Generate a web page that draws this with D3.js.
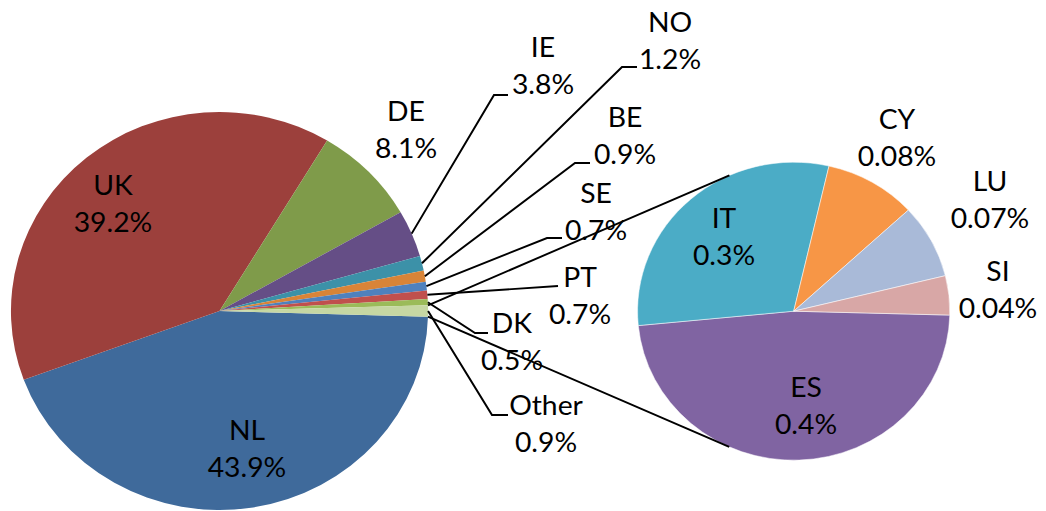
<!DOCTYPE html>
<html>
<head>
<meta charset="utf-8">
<script src="https://cdn.jsdelivr.net/npm/d3@7"></script>
<style>
  body { margin: 0; background: #fff; }
  svg { display: block; }
  text { font-family: Lato, "Open Sans", sans-serif; font-size: 27px; fill: #000; }
</style>
</head>
<body>
<svg id="chart" width="1046" height="511"></svg>
<script>
// main pie data (share of total, %)
var mainLabels = ["NL", "UK", "DE", "IE", "NO", "BE", "SE", "PT", "DK", "Other"];
var mainValues = [43.9, 39.2, 8.1, 3.8, 1.2, 0.9, 0.7, 0.7, 0.5, 0.9];
var mainText   = ["43.9%", "39.2%", "8.1%", "3.8%", "1.2%", "0.9%", "0.7%", "0.7%", "0.5%", "0.9%"];

// breakdown of "Other"
var otherLabels = ["ES", "IT", "CY", "LU", "SI"];
var otherValues = [0.43, 0.27, 0.085, 0.072, 0.038];
var otherText   = ["0.4%", "0.3%", "0.08%", "0.07%", "0.04%"];

chart = {};

chart.SX = 1.048;   // picture is a bit wider than tall
chart.mainColors = ["#3f6a9b", "#9c403c", "#7f9b4a", "#654e86", "#3c91a8", "#d88438",
                    "#4f81bd", "#c0504d", "#9bbb59", "#c6d7a3"];
chart.otherColors = ["#8064a2", "#4bacc6", "#f79646", "#a9bad8", "#d8a7a6"];

chart.main = { cx: 219.5, cy: 311, r: 199 };
chart.second = { cx: 793.7, cy: 311.2, r: 149, start: 91.5 };

// label placement in picture pixels: x centre, first baseline, leader elbow and end
chart.mainLabelPos = {
    NL:    { x: 247, y: 440 },
    UK:    { x: 113, y: 195 },
    DE:    { x: 406, y: 121 },
    IE:    { x: 543, y: 57,  elbow: [494, 95],  end: [508, 95] },
    NO:    { x: 670, y: 32,  elbow: [622, 67],  end: [637, 67] },
    BE:    { x: 625, y: 127, elbow: [575, 163], end: [590, 163] },
    SE:    { x: 596, y: 203, elbow: [547, 238], end: [562, 238] },
    PT:    { x: 580, y: 287, elbow: [558, 286], end: [558, 286] },
    DK:    { x: 512, y: 333, elbow: [475, 333], end: [488, 333] },
    Other: { x: 546, y: 415, elbow: [492, 415], end: [508, 415] }
};
chart.otherLabelPos = {
    ES: { x: 806, y: 397 },
    IT: { x: 724, y: 228 },
    CY: { x: 897, y: 129 },
    LU: { x: 990, y: 191 },
    SI: { x: 998, y: 281 }
};
chart.lineGap = 37;

chart.svg = d3.select("#chart");
chart.g = chart.svg.append("g")
    .attr("transform", "scale(" + chart.SX + ",1)");

// helper: picture x -> unscaled x
function ux(x) { return x / chart.SX; }

function edgePoint(c, a) {
    return [ux(c.cx) + c.r * Math.sin(a), c.cy - c.r * Math.cos(a)];
}

// main pie, with "Other" centred on 3 o'clock
var total = d3.sum(mainValues);
var otherAngle = 2 * Math.PI * mainValues[mainValues.length - 1] / total;
var a0 = Math.PI / 2 + otherAngle / 2;

var mainArcs = d3.pie().sort(null).value(function(d) { return d; })
    .startAngle(a0).endAngle(a0 + 2 * Math.PI)(mainValues);

var mainArc = d3.arc().innerRadius(0).outerRadius(chart.main.r);

chart.g.append("g")
    .attr("transform", "translate(" + ux(chart.main.cx) + "," + chart.main.cy + ")")
    .selectAll("path")
    .data(mainArcs)
    .enter().append("path")
    .attr("d", mainArc)
    .attr("fill", function(d, i) { return chart.mainColors[i]; });

// second pie
var s0 = chart.second.start * Math.PI / 180;
var otherArcs = d3.pie().sort(null).value(function(d) { return d; })
    .startAngle(s0).endAngle(s0 + 2 * Math.PI)(otherValues);

var otherArc = d3.arc().innerRadius(0).outerRadius(chart.second.r);

chart.g.append("g")
    .attr("transform", "translate(" + ux(chart.second.cx) + "," + chart.second.cy + ")")
    .selectAll("path")
    .data(otherArcs)
    .enter().append("path")
    .attr("d", otherArc)
    .attr("fill", function(d, i) { return chart.otherColors[i]; })
    .attr("stroke", "#fff")
    .attr("stroke-width", 0.5);

// connector lines: from edges of "Other" slice, tangent to the second pie
var oSlice = mainArcs[mainArcs.length - 1];
var C2 = [ux(chart.second.cx), chart.second.cy];
[oSlice.startAngle, oSlice.endAngle].forEach(function(a, k) {
    var p = edgePoint(chart.main, a);
    var dx = p[0] - C2[0], dy = p[1] - C2[1];
    var d = Math.sqrt(dx * dx + dy * dy);
    var phi = Math.atan2(dy, dx);
    var alpha = Math.acos(chart.second.r / d);
    var t1 = [C2[0] + chart.second.r * Math.cos(phi + alpha), C2[1] + chart.second.r * Math.sin(phi + alpha)];
    var t2 = [C2[0] + chart.second.r * Math.cos(phi - alpha), C2[1] + chart.second.r * Math.sin(phi - alpha)];
    var t = (k === 0) ? (t1[1] < t2[1] ? t1 : t2) : (t1[1] < t2[1] ? t2 : t1);
    chart.g.append("line")
        .attr("x1", p[0]).attr("y1", p[1])
        .attr("x2", t[0]).attr("y2", t[1])
        .attr("stroke", "#000")
        .attr("stroke-width", 1.9);
});

// leader lines for the small main slices
mainArcs.forEach(function(d, i) {
    var pos = chart.mainLabelPos[mainLabels[i]];
    if (!pos.elbow) return;
    var mid = (d.startAngle + d.endAngle) / 2;
    var p = edgePoint(chart.main, mid);
    var pts = [p, [ux(pos.elbow[0]), pos.elbow[1]], [ux(pos.end[0]), pos.end[1]]];
    chart.g.append("path")
        .attr("d", d3.line()(pts))
        .attr("fill", "none")
        .attr("stroke", "#000")
        .attr("stroke-width", 1.9);
});

// labels
function addLabel(name, value, pos) {
    var t = chart.g.append("text")
        .attr("text-anchor", "middle");
    t.append("tspan").attr("x", ux(pos.x)).attr("y", pos.y).text(name);
    t.append("tspan").attr("x", ux(pos.x)).attr("y", pos.y + chart.lineGap).text(value);
}

mainLabels.forEach(function(name, i) {
    addLabel(name, mainText[i], chart.mainLabelPos[name]);
});
otherLabels.forEach(function(name, i) {
    addLabel(name, otherText[i], chart.otherLabelPos[name]);
});
</script>
</body>
</html>
